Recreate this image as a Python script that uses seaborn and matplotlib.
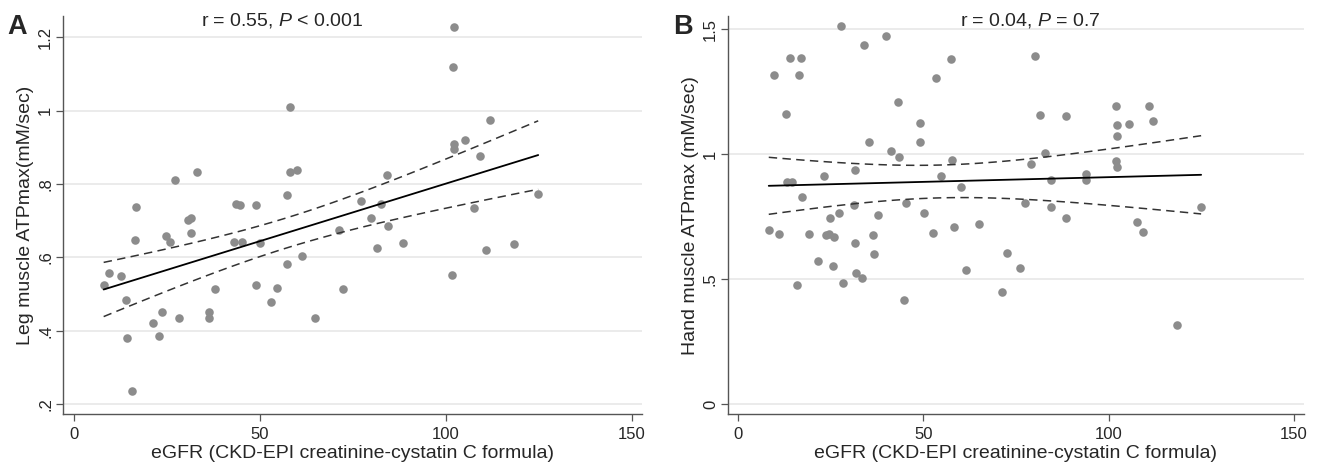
import matplotlib
matplotlib.use("Agg")
import matplotlib.pyplot as plt
import numpy as np
import pandas as pd
import seaborn as sns

# panel A: eGFR vs leg muscle ATPmax
leg_egfr = [102.3, 102.0, 58.3, 111.9, 102.3, 105.3, 102.3, 109.2, 27.2, 33.2,
            58.3, 60.1, 84.3, 124.9, 16.9, 57.4, 77.3, 82.7, 43.7, 44.8,
            49.0, 31.5, 30.8, 107.6, 80.0, 84.5, 71.3, 16.5, 24.8, 25.8,
            31.7, 43.1, 45.3, 50.1, 81.5, 88.6, 110.9, 118.4, 8.1, 9.6,
            12.8, 14.0, 14.4, 15.8, 21.3, 22.9, 23.7, 28.3, 36.3, 36.3,
            37.9, 49.1, 53.2, 54.6, 57.5, 61.3, 64.9, 72.5, 101.6]
leg_atp = [1.229, 1.119, 1.011, 0.975, 0.910, 0.921, 0.895, 0.875, 0.810, 0.832,
           0.832, 0.837, 0.825, 0.774, 0.738, 0.771, 0.753, 0.746, 0.745, 0.742,
           0.744, 0.706, 0.703, 0.735, 0.707, 0.685, 0.674, 0.646, 0.659, 0.642,
           0.665, 0.641, 0.641, 0.640, 0.625, 0.639, 0.621, 0.636, 0.525, 0.557,
           0.548, 0.483, 0.380, 0.235, 0.420, 0.385, 0.451, 0.435, 0.450, 0.435,
           0.513, 0.524, 0.478, 0.517, 0.583, 0.604, 0.434, 0.513, 0.553]

# panel B: eGFR vs hand muscle ATPmax
hand_egfr = [27.7, 40.0, 34.0, 13.9, 16.8, 9.6, 16.4, 57.4, 80.0, 53.3,
             12.8, 43.2, 81.6, 88.5, 101.9, 110.9, 102.4, 105.4, 111.9, 102.4,
             49.0, 49.0, 35.3, 41.2, 43.5, 82.8, 57.6, 79.0, 102.0, 102.4,
             94.0, 94.0, 84.5, 31.6, 23.0, 54.6, 13.2, 14.4, 60.0, 17.3,
             125.0, 31.1, 45.3, 77.3, 84.4, 50.2, 27.1, 24.8, 37.8, 88.6,
             65.0, 107.7, 58.3, 8.2, 11.0, 19.0, 23.6, 24.5, 25.9, 36.3,
             31.5, 36.5, 52.5, 109.2, 21.5, 25.6, 31.9, 33.3, 15.9, 28.3,
             61.5, 72.5, 76.0, 71.3, 44.8, 118.5]
hand_atp = [1.512, 1.472, 1.436, 1.384, 1.384, 1.316, 1.316, 1.381, 1.394, 1.303,
            1.160, 1.210, 1.158, 1.154, 1.194, 1.191, 1.115, 1.120, 1.131, 1.072,
            1.124, 1.047, 1.047, 1.011, 0.989, 1.005, 0.977, 0.961, 0.973, 0.949,
            0.921, 0.896, 0.897, 0.937, 0.912, 0.914, 0.890, 0.890, 0.869, 0.829,
            0.790, 0.797, 0.806, 0.803, 0.787, 0.766, 0.765, 0.746, 0.757, 0.743,
            0.721, 0.727, 0.709, 0.695, 0.680, 0.679, 0.675, 0.679, 0.670, 0.675,
            0.646, 0.600, 0.684, 0.687, 0.572, 0.551, 0.525, 0.504, 0.475, 0.484,
            0.536, 0.606, 0.545, 0.448, 0.416, 0.317]

x_ticks = [0, 50, 100, 150]
leg_yticks = [0.2, 0.4, 0.6, 0.8, 1.0, 1.2]
leg_ytick_labels = [".2", ".4", ".6", ".8", "1", "1.2"]
hand_yticks = [0, 0.5, 1.0, 1.5]
hand_ytick_labels = ["0", ".5", "1", "1.5"]

xlabel = "eGFR (CKD-EPI creatinine-cystatin C formula)"

sns.set_style("white")
plt.rcParams["font.family"] = ["Liberation Sans", "DejaVu Sans"]
plt.rcParams["mathtext.fontset"] = "custom"
plt.rcParams["mathtext.it"] = "Liberation Sans:italic"
plt.rcParams["mathtext.rm"] = "Liberation Sans"

DOT = "#8c8c8c"
SPINE = "#555555"


def ci_band(x, y, xs, t=2.0):
    # 95% CI of the fitted mean
    x = np.asarray(x)
    y = np.asarray(y)
    b, a = np.polyfit(x, y, 1)
    resid = y - (a + b * x)
    n = len(x)
    s = np.sqrt((resid ** 2).sum() / (n - 2))
    se = s * np.sqrt(1 / n + (xs - x.mean()) ** 2 / ((x - x.mean()) ** 2).sum())
    fit = a + b * xs
    return fit - t * se, fit + t * se


def panel(ax, x, y, yticks, ylabels, ylim, ylabel, title, title_x, letter):
    df = pd.DataFrame({"egfr": x, "atp": y})
    sns.regplot(data=df, x="egfr", y="atp", ax=ax, ci=None,
                scatter_kws=dict(color=DOT, s=38, alpha=1, linewidths=0),
                line_kws=dict(color="black", lw=1.3))
    xs = np.linspace(min(x), max(x), 120)
    lo, hi = ci_band(x, y, xs)
    for band in (lo, hi):
        sns.lineplot(x=xs, y=band, ax=ax, color="#333333", lw=1.1,
                     linestyle=(0, (5.5, 3.5)))
    ax.set_xlim(-2.9, 152.8)
    ax.set_ylim(*ylim)
    ax.set_xticks(x_ticks)
    ax.set_xticklabels([str(t) for t in x_ticks])
    ax.set_yticks(yticks)
    ax.set_yticklabels(ylabels, rotation=90, va="center")
    ax.yaxis.grid(True, color="#e8e8e8", lw=1.2)
    ax.set_axisbelow(True)
    sns.despine(ax=ax)
    for side in ("left", "bottom"):
        ax.spines[side].set_color(SPINE)
        ax.spines[side].set_linewidth(1.0)
    ax.tick_params(axis="both", length=5, width=0.9, color=SPINE, labelsize=12,
                   left=True, bottom=True)
    ax.tick_params(axis="x", pad=4)
    ax.tick_params(axis="y", pad=2)
    ax.set_xlabel(xlabel, fontsize=14, labelpad=2.5)
    ax.set_ylabel(ylabel, fontsize=14, labelpad=3)
    ax.text(title_x, 0.975, title, transform=ax.transAxes, ha="center",
            va="baseline", fontsize=14)
    ax.text(-0.095, 0.955, letter, transform=ax.transAxes, fontsize=19.5,
            fontweight="bold", ha="left", va="baseline")


fig = plt.figure(figsize=(13.18, 4.65), dpi=100)
ax1 = fig.add_axes([0.0476, 0.109, 0.4395, 0.8566])
ax2 = fig.add_axes([0.5521, 0.109, 0.4373, 0.8566])

panel(ax1, leg_egfr, leg_atp, leg_yticks, leg_ytick_labels, (0.172, 1.258),
      "Leg muscle ATPmax(mM/sec)", "r = 0.55, $\\mathit{P}$ < 0.001", 0.379, "A")
panel(ax2, hand_egfr, hand_atp, hand_yticks, hand_ytick_labels, (-0.041, 1.553),
      "Hand muscle ATPmax (mM/sec)", "r = 0.04, $\\mathit{P}$ = 0.7", 0.526, "B")

fig.savefig("out.png", dpi=100)
